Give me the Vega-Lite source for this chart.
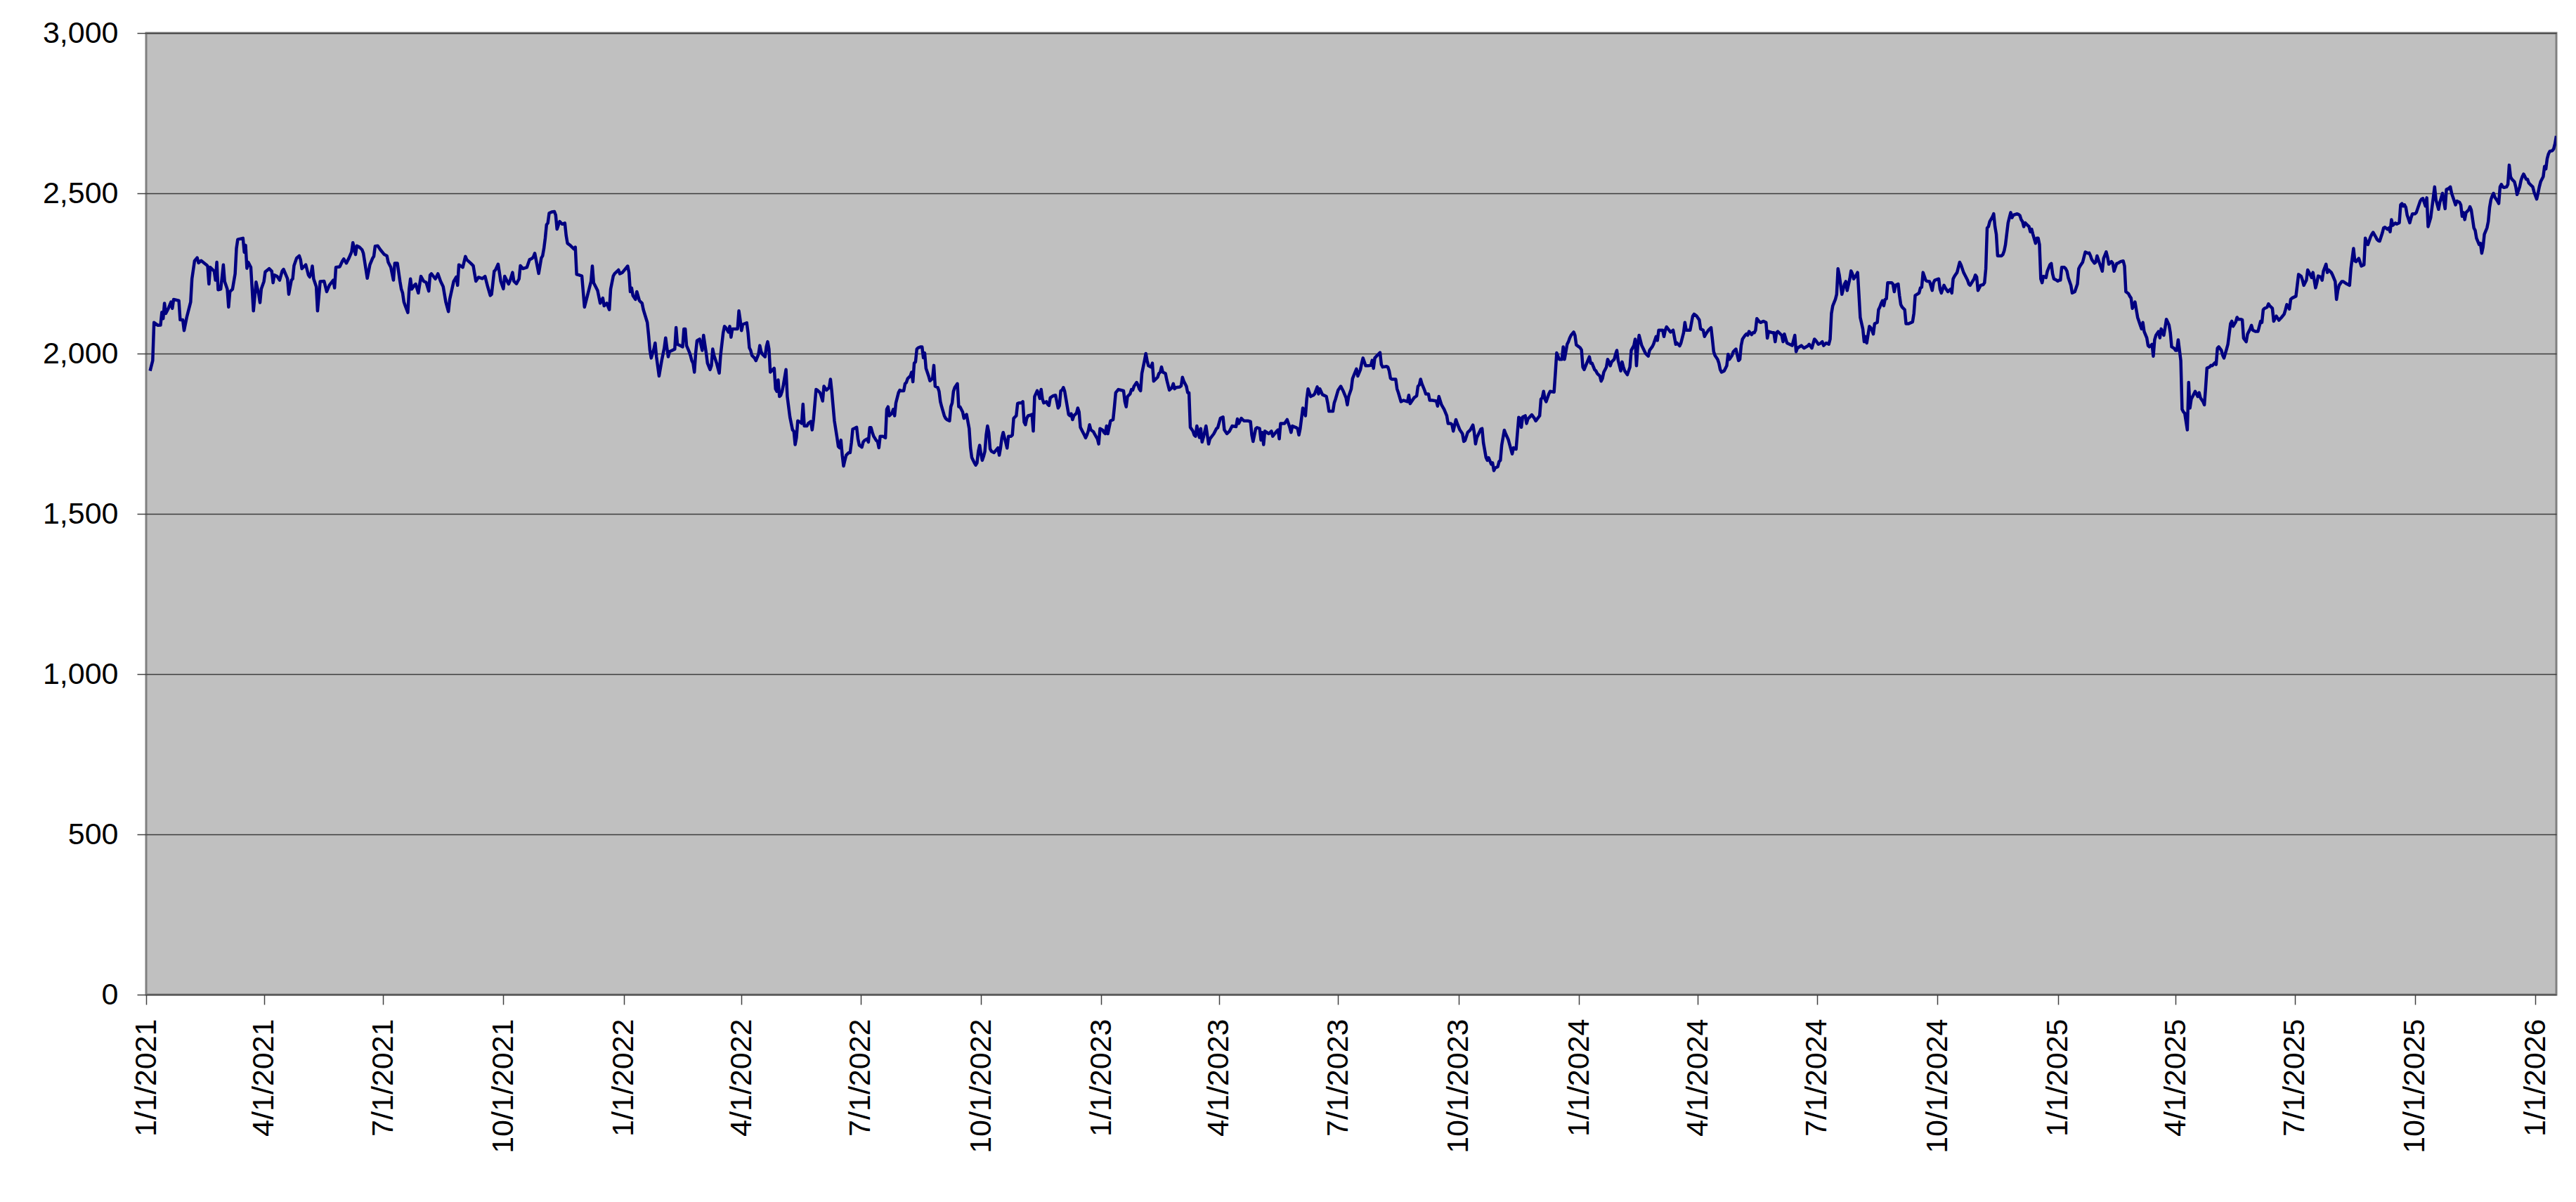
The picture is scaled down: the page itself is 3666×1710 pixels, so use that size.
{
"$schema":"https://vega.github.io/schema/vega-lite/v6.json",
"autosize":{"type":"none"},
"width":3430,"height":1368,
"padding":{"left":208,"top":47,"right":28,"bottom":295},
"background":"#ffffff",
"config":{"view":{"stroke":"#808080","strokeWidth":3,"fill":"#C0C0C0"},
"axis":{"labelFont":"Liberation Sans","labelFontSize":43,"labelColor":"#000000","labelLimit":0,"tickColor":"#404040","tickWidth":1.5,"domain":false}},
"data":{"format":{"parse":{"d":"date:'%Y-%j'"}},"values":[
{"d":"2021-004","v":1946},{"d":"2021-006","v":1978},{"d":"2021-007","v":2097},{"d":"2021-010","v":2088},{"d":"2021-012","v":2089},{"d":"2021-013","v":2129},{"d":"2021-014","v":2109},{"d":"2021-015","v":2157},{"d":"2021-016","v":2125},{"d":"2021-018","v":2141},{"d":"2021-020","v":2161},{"d":"2021-021","v":2141},{"d":"2021-022","v":2169},{"d":"2021-026","v":2165},{"d":"2021-027","v":2105},{"d":"2021-029","v":2105},{"d":"2021-030","v":2072},{"d":"2021-032","v":2113},{"d":"2021-035","v":2161},{"d":"2021-036","v":2233},{"d":"2021-038","v":2289},{"d":"2021-040","v":2299},{"d":"2021-041","v":2283},{"d":"2021-043","v":2290},{"d":"2021-047","v":2277},{"d":"2021-048","v":2273},{"d":"2021-049","v":2217},{"d":"2021-050","v":2269},{"d":"2021-053","v":2257},{"d":"2021-054","v":2229},{"d":"2021-055","v":2285},{"d":"2021-056","v":2199},{"d":"2021-058","v":2201},{"d":"2021-060","v":2277},{"d":"2021-061","v":2225},{"d":"2021-063","v":2201},{"d":"2021-064","v":2145},{"d":"2021-065","v":2193},{"d":"2021-067","v":2201},{"d":"2021-069","v":2249},{"d":"2021-070","v":2328},{"d":"2021-071","v":2356},{"d":"2021-075","v":2360},{"d":"2021-076","v":2316},{"d":"2021-077","v":2338},{"d":"2021-078","v":2266},{"d":"2021-079","v":2285},{"d":"2021-081","v":2269},{"d":"2021-082","v":2201},{"d":"2021-083","v":2133},{"d":"2021-085","v":2223},{"d":"2021-087","v":2185},{"d":"2021-088","v":2159},{"d":"2021-089","v":2202},{"d":"2021-091","v":2225},{"d":"2021-092","v":2255},{"d":"2021-095","v":2265},{"d":"2021-097","v":2257},{"d":"2021-098","v":2221},{"d":"2021-099","v":2245},{"d":"2021-101","v":2241},{"d":"2021-103","v":2229},{"d":"2021-105","v":2258},{"d":"2021-106","v":2263},{"d":"2021-109","v":2234},{"d":"2021-110","v":2185},{"d":"2021-112","v":2229},{"d":"2021-113","v":2233},{"d":"2021-114","v":2274},{"d":"2021-116","v":2298},{"d":"2021-118","v":2305},{"d":"2021-119","v":2293},{"d":"2021-120","v":2265},{"d":"2021-122","v":2273},{"d":"2021-123","v":2277},{"d":"2021-125","v":2245},{"d":"2021-126","v":2239},{"d":"2021-127","v":2249},{"d":"2021-128","v":2273},{"d":"2021-129","v":2233},{"d":"2021-131","v":2209},{"d":"2021-132","v":2133},{"d":"2021-134","v":2225},{"d":"2021-137","v":2226},{"d":"2021-139","v":2193},{"d":"2021-141","v":2213},{"d":"2021-144","v":2229},{"d":"2021-145","v":2205},{"d":"2021-146","v":2269},{"d":"2021-149","v":2271},{"d":"2021-151","v":2289},{"d":"2021-152","v":2295},{"d":"2021-154","v":2282},{"d":"2021-156","v":2298},{"d":"2021-158","v":2317},{"d":"2021-159","v":2346},{"d":"2021-161","v":2309},{"d":"2021-162","v":2336},{"d":"2021-164","v":2332},{"d":"2021-166","v":2324},{"d":"2021-167","v":2313},{"d":"2021-170","v":2235},{"d":"2021-172","v":2277},{"d":"2021-174","v":2297},{"d":"2021-175","v":2303},{"d":"2021-176","v":2335},{"d":"2021-178","v":2336},{"d":"2021-180","v":2324},{"d":"2021-183","v":2309},{"d":"2021-185","v":2305},{"d":"2021-186","v":2285},{"d":"2021-188","v":2269},{"d":"2021-190","v":2229},{"d":"2021-191","v":2282},{"d":"2021-193","v":2282},{"d":"2021-195","v":2225},{"d":"2021-196","v":2201},{"d":"2021-197","v":2189},{"d":"2021-198","v":2161},{"d":"2021-199","v":2149},{"d":"2021-201","v":2128},{"d":"2021-202","v":2201},{"d":"2021-203","v":2233},{"d":"2021-204","v":2201},{"d":"2021-206","v":2213},{"d":"2021-207","v":2217},{"d":"2021-209","v":2189},{"d":"2021-211","v":2241},{"d":"2021-213","v":2226},{"d":"2021-215","v":2222},{"d":"2021-217","v":2195},{"d":"2021-218","v":2245},{"d":"2021-219","v":2249},{"d":"2021-222","v":2233},{"d":"2021-224","v":2249},{"d":"2021-226","v":2226},{"d":"2021-228","v":2209},{"d":"2021-230","v":2161},{"d":"2021-232","v":2131},{"d":"2021-233","v":2169},{"d":"2021-236","v":2225},{"d":"2021-238","v":2239},{"d":"2021-239","v":2213},{"d":"2021-240","v":2277},{"d":"2021-243","v":2269},{"d":"2021-245","v":2303},{"d":"2021-246","v":2293},{"d":"2021-249","v":2282},{"d":"2021-251","v":2274},{"d":"2021-252","v":2249},{"d":"2021-253","v":2226},{"d":"2021-255","v":2238},{"d":"2021-258","v":2234},{"d":"2021-260","v":2241},{"d":"2021-262","v":2209},{"d":"2021-264","v":2181},{"d":"2021-265","v":2185},{"d":"2021-267","v":2257},{"d":"2021-268","v":2261},{"d":"2021-270","v":2279},{"d":"2021-272","v":2226},{"d":"2021-274","v":2202},{"d":"2021-275","v":2241},{"d":"2021-278","v":2217},{"d":"2021-279","v":2226},{"d":"2021-281","v":2253},{"d":"2021-282","v":2226},{"d":"2021-284","v":2218},{"d":"2021-286","v":2233},{"d":"2021-287","v":2274},{"d":"2021-289","v":2265},{"d":"2021-292","v":2269},{"d":"2021-294","v":2293},{"d":"2021-296","v":2297},{"d":"2021-297","v":2302},{"d":"2021-298","v":2313},{"d":"2021-301","v":2250},{"d":"2021-303","v":2298},{"d":"2021-304","v":2305},{"d":"2021-305","v":2328},{"d":"2021-306","v":2360},{"d":"2021-307","v":2402},{"d":"2021-308","v":2407},{"d":"2021-309","v":2438},{"d":"2021-311","v":2442},{"d":"2021-313","v":2443},{"d":"2021-314","v":2432},{"d":"2021-315","v":2388},{"d":"2021-317","v":2412},{"d":"2021-319","v":2404},{"d":"2021-321","v":2407},{"d":"2021-322","v":2368},{"d":"2021-323","v":2344},{"d":"2021-325","v":2338},{"d":"2021-328","v":2326},{"d":"2021-329","v":2332},{"d":"2021-330","v":2247},{"d":"2021-332","v":2245},{"d":"2021-334","v":2242},{"d":"2021-336","v":2145},{"d":"2021-337","v":2161},{"d":"2021-341","v":2225},{"d":"2021-342","v":2273},{"d":"2021-343","v":2221},{"d":"2021-346","v":2197},{"d":"2021-348","v":2157},{"d":"2021-350","v":2173},{"d":"2021-351","v":2149},{"d":"2021-353","v":2157},{"d":"2021-355","v":2137},{"d":"2021-356","v":2201},{"d":"2021-358","v":2242},{"d":"2021-359","v":2249},{"d":"2021-362","v":2261},{"d":"2021-363","v":2249},{"d":"2021-365","v":2253},
{"d":"2022-004","v":2273},{"d":"2022-005","v":2253},{"d":"2022-006","v":2193},{"d":"2022-007","v":2205},{"d":"2022-008","v":2181},{"d":"2022-009","v":2175},{"d":"2022-010","v":2169},{"d":"2022-011","v":2193},{"d":"2022-013","v":2165},{"d":"2022-014","v":2161},{"d":"2022-015","v":2157},{"d":"2022-016","v":2137},{"d":"2022-019","v":2097},{"d":"2022-020","v":2057},{"d":"2022-021","v":2010},{"d":"2022-022","v":1986},{"d":"2022-024","v":2014},{"d":"2022-025","v":2033},{"d":"2022-026","v":1990},{"d":"2022-028","v":1930},{"d":"2022-030","v":1978},{"d":"2022-032","v":2018},{"d":"2022-033","v":2049},{"d":"2022-034","v":2018},{"d":"2022-035","v":1990},{"d":"2022-036","v":2006},{"d":"2022-038","v":2010},{"d":"2022-040","v":2014},{"d":"2022-041","v":2081},{"d":"2022-042","v":2029},{"d":"2022-044","v":2025},{"d":"2022-046","v":2021},{"d":"2022-047","v":2077},{"d":"2022-048","v":2077},{"d":"2022-049","v":2025},{"d":"2022-051","v":2006},{"d":"2022-052","v":1994},{"d":"2022-053","v":1978},{"d":"2022-054","v":1970},{"d":"2022-055","v":1942},{"d":"2022-056","v":2002},{"d":"2022-057","v":2040},{"d":"2022-059","v":2045},{"d":"2022-061","v":2010},{"d":"2022-062","v":2057},{"d":"2022-063","v":2029},{"d":"2022-064","v":2002},{"d":"2022-065","v":1970},{"d":"2022-067","v":1950},{"d":"2022-068","v":1962},{"d":"2022-069","v":2014},{"d":"2022-070","v":1994},{"d":"2022-072","v":1970},{"d":"2022-073","v":1954},{"d":"2022-074","v":1939},{"d":"2022-075","v":1994},{"d":"2022-077","v":2065},{"d":"2022-078","v":2085},{"d":"2022-079","v":2081},{"d":"2022-081","v":2067},{"d":"2022-082","v":2085},{"d":"2022-083","v":2051},{"d":"2022-084","v":2077},{"d":"2022-088","v":2077},{"d":"2022-089","v":2133},{"d":"2022-090","v":2105},{"d":"2022-091","v":2072},{"d":"2022-092","v":2091},{"d":"2022-095","v":2096},{"d":"2022-096","v":2065},{"d":"2022-097","v":2018},{"d":"2022-098","v":2010},{"d":"2022-099","v":1994},{"d":"2022-101","v":1986},{"d":"2022-102","v":1978},{"d":"2022-104","v":1998},{"d":"2022-105","v":2025},{"d":"2022-106","v":2006},{"d":"2022-107","v":1998},{"d":"2022-109","v":1990},{"d":"2022-110","v":2021},{"d":"2022-111","v":2037},{"d":"2022-112","v":2014},{"d":"2022-113","v":1942},{"d":"2022-114","v":1946},{"d":"2022-116","v":1954},{"d":"2022-117","v":1890},{"d":"2022-118","v":1882},{"d":"2022-119","v":1918},{"d":"2022-120","v":1866},{"d":"2022-121","v":1870},{"d":"2022-122","v":1882},{"d":"2022-123","v":1902},{"d":"2022-125","v":1950},{"d":"2022-126","v":1866},{"d":"2022-127","v":1834},{"d":"2022-128","v":1802},{"d":"2022-130","v":1762},{"d":"2022-131","v":1758},{"d":"2022-132","v":1716},{"d":"2022-133","v":1738},{"d":"2022-134","v":1790},{"d":"2022-136","v":1786},{"d":"2022-137","v":1782},{"d":"2022-138","v":1842},{"d":"2022-139","v":1774},{"d":"2022-141","v":1774},{"d":"2022-142","v":1782},{"d":"2022-144","v":1788},{"d":"2022-145","v":1762},{"d":"2022-146","v":1794},{"d":"2022-148","v":1888},{"d":"2022-149","v":1886},{"d":"2022-151","v":1878},{"d":"2022-152","v":1866},{"d":"2022-153","v":1852},{"d":"2022-154","v":1898},{"d":"2022-156","v":1886},{"d":"2022-157","v":1890},{"d":"2022-158","v":1894},{"d":"2022-159","v":1920},{"d":"2022-160","v":1882},{"d":"2022-162","v":1790},{"d":"2022-164","v":1738},{"d":"2022-165","v":1710},{"d":"2022-166","v":1706},{"d":"2022-167","v":1730},{"d":"2022-168","v":1683},{"d":"2022-169","v":1649},{"d":"2022-170","v":1667},{"d":"2022-171","v":1683},{"d":"2022-173","v":1691},{"d":"2022-174","v":1691},{"d":"2022-175","v":1722},{"d":"2022-176","v":1764},{"d":"2022-177","v":1766},{"d":"2022-179","v":1770},{"d":"2022-180","v":1734},{"d":"2022-181","v":1714},{"d":"2022-183","v":1708},{"d":"2022-184","v":1724},{"d":"2022-185","v":1729},{"d":"2022-187","v":1734},{"d":"2022-188","v":1724},{"d":"2022-189","v":1769},{"d":"2022-190","v":1769},{"d":"2022-191","v":1754},{"d":"2022-192","v":1742},{"d":"2022-194","v":1729},{"d":"2022-195","v":1726},{"d":"2022-196","v":1706},{"d":"2022-197","v":1742},{"d":"2022-199","v":1742},{"d":"2022-201","v":1737},{"d":"2022-202","v":1826},{"d":"2022-203","v":1834},{"d":"2022-204","v":1806},{"d":"2022-205","v":1810},{"d":"2022-206","v":1814},{"d":"2022-207","v":1826},{"d":"2022-208","v":1806},{"d":"2022-209","v":1846},{"d":"2022-211","v":1878},{"d":"2022-212","v":1886},{"d":"2022-213","v":1884},{"d":"2022-215","v":1884},{"d":"2022-216","v":1906},{"d":"2022-217","v":1910},{"d":"2022-218","v":1922},{"d":"2022-220","v":1930},{"d":"2022-221","v":1942},{"d":"2022-222","v":1912},{"d":"2022-223","v":1970},{"d":"2022-224","v":1974},{"d":"2022-225","v":2014},{"d":"2022-226","v":2018},{"d":"2022-228","v":2021},{"d":"2022-229","v":2021},{"d":"2022-230","v":1987},{"d":"2022-231","v":2002},{"d":"2022-232","v":1954},{"d":"2022-234","v":1930},{"d":"2022-235","v":1915},{"d":"2022-237","v":1922},{"d":"2022-238","v":1963},{"d":"2022-239","v":1898},{"d":"2022-241","v":1894},{"d":"2022-242","v":1882},{"d":"2022-243","v":1850},{"d":"2022-244","v":1834},{"d":"2022-246","v":1806},{"d":"2022-247","v":1798},{"d":"2022-248","v":1794},{"d":"2022-250","v":1790},{"d":"2022-251","v":1834},{"d":"2022-252","v":1846},{"d":"2022-253","v":1882},{"d":"2022-254","v":1894},{"d":"2022-256","v":1906},{"d":"2022-257","v":1834},{"d":"2022-258","v":1834},{"d":"2022-260","v":1818},{"d":"2022-261","v":1798},{"d":"2022-262","v":1806},{"d":"2022-263","v":1810},{"d":"2022-265","v":1766},{"d":"2022-266","v":1706},{"d":"2022-267","v":1676},{"d":"2022-268","v":1667},{"d":"2022-269","v":1659},{"d":"2022-270","v":1652},{"d":"2022-271","v":1659},{"d":"2022-272","v":1695},{"d":"2022-273","v":1714},{"d":"2022-274","v":1687},{"d":"2022-275","v":1667},{"d":"2022-276","v":1679},{"d":"2022-277","v":1695},{"d":"2022-278","v":1746},{"d":"2022-279","v":1774},{"d":"2022-280","v":1754},{"d":"2022-281","v":1703},{"d":"2022-282","v":1695},{"d":"2022-284","v":1691},{"d":"2022-287","v":1706},{"d":"2022-288","v":1683},{"d":"2022-289","v":1706},{"d":"2022-290","v":1738},{"d":"2022-291","v":1754},{"d":"2022-292","v":1738},{"d":"2022-293","v":1722},{"d":"2022-294","v":1705},{"d":"2022-295","v":1742},{"d":"2022-297","v":1742},{"d":"2022-298","v":1746},{"d":"2022-299","v":1798},{"d":"2022-301","v":1806},{"d":"2022-302","v":1844},{"d":"2022-303","v":1846},{"d":"2022-305","v":1846},{"d":"2022-306","v":1850},{"d":"2022-307","v":1786},{"d":"2022-308","v":1778},{"d":"2022-309","v":1798},{"d":"2022-310","v":1806},{"d":"2022-312","v":1808},{"d":"2022-313","v":1810},{"d":"2022-314","v":1758},{"d":"2022-315","v":1866},{"d":"2022-317","v":1884},{"d":"2022-318","v":1874},{"d":"2022-319","v":1860},{"d":"2022-320","v":1888},{"d":"2022-321","v":1858},{"d":"2022-322","v":1846},{"d":"2022-324","v":1850},{"d":"2022-325","v":1842},{"d":"2022-326","v":1838},{"d":"2022-327","v":1862},{"d":"2022-329","v":1868},{"d":"2022-331","v":1870},{"d":"2022-332","v":1850},{"d":"2022-333","v":1830},{"d":"2022-334","v":1838},{"d":"2022-335","v":1884},{"d":"2022-336","v":1886},{"d":"2022-337","v":1894},{"d":"2022-338","v":1882},{"d":"2022-339","v":1858},{"d":"2022-340","v":1834},{"d":"2022-341","v":1810},{"d":"2022-342","v":1806},{"d":"2022-343","v":1812},{"d":"2022-344","v":1794},{"d":"2022-345","v":1806},{"d":"2022-347","v":1814},{"d":"2022-348","v":1830},{"d":"2022-349","v":1818},{"d":"2022-350","v":1770},{"d":"2022-352","v":1754},{"d":"2022-353","v":1746},{"d":"2022-354","v":1737},{"d":"2022-355","v":1746},{"d":"2022-356","v":1758},{"d":"2022-357","v":1778},{"d":"2022-358","v":1762},{"d":"2022-360","v":1756},{"d":"2022-361","v":1748},{"d":"2022-363","v":1734},{"d":"2022-364","v":1718},{"d":"2022-365","v":1766},
{"d":"2023-002","v":1761},{"d":"2023-003","v":1754},{"d":"2023-004","v":1750},{"d":"2023-005","v":1774},{"d":"2023-006","v":1750},{"d":"2023-008","v":1790},{"d":"2023-010","v":1794},{"d":"2023-011","v":1834},{"d":"2023-012","v":1878},{"d":"2023-014","v":1888},{"d":"2023-016","v":1886},{"d":"2023-018","v":1884},{"d":"2023-019","v":1850},{"d":"2023-020","v":1834},{"d":"2023-021","v":1866},{"d":"2023-023","v":1874},{"d":"2023-024","v":1888},{"d":"2023-025","v":1886},{"d":"2023-026","v":1898},{"d":"2023-028","v":1910},{"d":"2023-029","v":1902},{"d":"2023-030","v":1890},{"d":"2023-031","v":1884},{"d":"2023-032","v":1938},{"d":"2023-034","v":1978},{"d":"2023-035","v":2000},{"d":"2023-036","v":1978},{"d":"2023-037","v":1962},{"d":"2023-039","v":1958},{"d":"2023-040","v":1970},{"d":"2023-041","v":1914},{"d":"2023-042","v":1918},{"d":"2023-044","v":1926},{"d":"2023-045","v":1938},{"d":"2023-046","v":1942},{"d":"2023-047","v":1958},{"d":"2023-048","v":1942},{"d":"2023-050","v":1938},{"d":"2023-051","v":1918},{"d":"2023-052","v":1902},{"d":"2023-053","v":1886},{"d":"2023-055","v":1894},{"d":"2023-056","v":1906},{"d":"2023-057","v":1890},{"d":"2023-058","v":1894},{"d":"2023-061","v":1896},{"d":"2023-062","v":1899},{"d":"2023-063","v":1926},{"d":"2023-064","v":1914},{"d":"2023-066","v":1898},{"d":"2023-067","v":1878},{"d":"2023-068","v":1878},{"d":"2023-069","v":1770},{"d":"2023-071","v":1758},{"d":"2023-072","v":1746},{"d":"2023-073","v":1742},{"d":"2023-074","v":1774},{"d":"2023-076","v":1738},{"d":"2023-077","v":1766},{"d":"2023-078","v":1724},{"d":"2023-079","v":1738},{"d":"2023-081","v":1774},{"d":"2023-082","v":1746},{"d":"2023-083","v":1718},{"d":"2023-084","v":1734},{"d":"2023-087","v":1750},{"d":"2023-089","v":1766},{"d":"2023-090","v":1769},{"d":"2023-092","v":1798},{"d":"2023-094","v":1802},{"d":"2023-095","v":1762},{"d":"2023-097","v":1750},{"d":"2023-099","v":1758},{"d":"2023-101","v":1774},{"d":"2023-104","v":1772},{"d":"2023-105","v":1796},{"d":"2023-106","v":1782},{"d":"2023-108","v":1798},{"d":"2023-110","v":1790},{"d":"2023-113","v":1790},{"d":"2023-115","v":1788},{"d":"2023-116","v":1746},{"d":"2023-117","v":1726},{"d":"2023-119","v":1766},{"d":"2023-120","v":1769},{"d":"2023-122","v":1766},{"d":"2023-123","v":1730},{"d":"2023-124","v":1754},{"d":"2023-125","v":1716},{"d":"2023-126","v":1758},{"d":"2023-129","v":1750},{"d":"2023-131","v":1758},{"d":"2023-132","v":1742},{"d":"2023-135","v":1758},{"d":"2023-136","v":1762},{"d":"2023-137","v":1734},{"d":"2023-138","v":1782},{"d":"2023-141","v":1782},{"d":"2023-143","v":1794},{"d":"2023-145","v":1770},{"d":"2023-146","v":1754},{"d":"2023-147","v":1774},{"d":"2023-150","v":1769},{"d":"2023-151","v":1766},{"d":"2023-152","v":1746},{"d":"2023-153","v":1766},{"d":"2023-155","v":1830},{"d":"2023-156","v":1822},{"d":"2023-157","v":1806},{"d":"2023-158","v":1858},{"d":"2023-159","v":1890},{"d":"2023-161","v":1866},{"d":"2023-163","v":1870},{"d":"2023-164","v":1874},{"d":"2023-166","v":1896},{"d":"2023-167","v":1874},{"d":"2023-168","v":1890},{"d":"2023-170","v":1872},{"d":"2023-173","v":1866},{"d":"2023-174","v":1846},{"d":"2023-175","v":1820},{"d":"2023-178","v":1820},{"d":"2023-179","v":1846},{"d":"2023-180","v":1858},{"d":"2023-182","v":1886},{"d":"2023-184","v":1898},{"d":"2023-186","v":1882},{"d":"2023-188","v":1862},{"d":"2023-189","v":1840},{"d":"2023-190","v":1866},{"d":"2023-192","v":1890},{"d":"2023-193","v":1922},{"d":"2023-195","v":1942},{"d":"2023-196","v":1952},{"d":"2023-197","v":1930},{"d":"2023-199","v":1950},{"d":"2023-200","v":1970},{"d":"2023-201","v":1986},{"d":"2023-203","v":1962},{"d":"2023-205","v":1962},{"d":"2023-207","v":1963},{"d":"2023-208","v":1979},{"d":"2023-209","v":1954},{"d":"2023-210","v":1986},{"d":"2023-212","v":1995},{"d":"2023-214","v":2003},{"d":"2023-215","v":1966},{"d":"2023-216","v":1958},{"d":"2023-219","v":1960},{"d":"2023-220","v":1958},{"d":"2023-221","v":1946},{"d":"2023-222","v":1923},{"d":"2023-223","v":1920},{"d":"2023-226","v":1920},{"d":"2023-227","v":1890},{"d":"2023-228","v":1878},{"d":"2023-230","v":1850},{"d":"2023-232","v":1854},{"d":"2023-235","v":1850},{"d":"2023-236","v":1870},{"d":"2023-237","v":1844},{"d":"2023-240","v":1862},{"d":"2023-242","v":1868},{"d":"2023-243","v":1898},{"d":"2023-244","v":1902},{"d":"2023-245","v":1920},{"d":"2023-246","v":1906},{"d":"2023-248","v":1886},{"d":"2023-249","v":1874},{"d":"2023-251","v":1874},{"d":"2023-252","v":1854},{"d":"2023-254","v":1854},{"d":"2023-257","v":1852},{"d":"2023-258","v":1836},{"d":"2023-259","v":1866},{"d":"2023-261","v":1840},{"d":"2023-263","v":1826},{"d":"2023-265","v":1806},{"d":"2023-266","v":1782},{"d":"2023-268","v":1782},{"d":"2023-269","v":1778},{"d":"2023-270","v":1758},{"d":"2023-272","v":1794},{"d":"2023-273","v":1782},{"d":"2023-275","v":1762},{"d":"2023-277","v":1750},{"d":"2023-278","v":1726},{"d":"2023-279","v":1729},{"d":"2023-281","v":1754},{"d":"2023-283","v":1762},{"d":"2023-285","v":1777},{"d":"2023-286","v":1754},{"d":"2023-287","v":1718},{"d":"2023-288","v":1738},{"d":"2023-291","v":1764},{"d":"2023-292","v":1766},{"d":"2023-293","v":1722},{"d":"2023-295","v":1676},{"d":"2023-296","v":1667},{"d":"2023-297","v":1675},{"d":"2023-299","v":1655},{"d":"2023-300","v":1659},{"d":"2023-301","v":1635},{"d":"2023-302","v":1643},{"d":"2023-304","v":1647},{"d":"2023-305","v":1663},{"d":"2023-306","v":1667},{"d":"2023-307","v":1714},{"d":"2023-309","v":1761},{"d":"2023-310","v":1750},{"d":"2023-312","v":1732},{"d":"2023-314","v":1702},{"d":"2023-315","v":1687},{"d":"2023-316","v":1706},{"d":"2023-318","v":1702},{"d":"2023-320","v":1801},{"d":"2023-321","v":1798},{"d":"2023-322","v":1770},{"d":"2023-323","v":1802},{"d":"2023-325","v":1806},{"d":"2023-326","v":1782},{"d":"2023-327","v":1796},{"d":"2023-330","v":1809},{"d":"2023-332","v":1798},{"d":"2023-333","v":1790},{"d":"2023-336","v":1806},{"d":"2023-337","v":1858},{"d":"2023-338","v":1862},{"d":"2023-339","v":1882},{"d":"2023-340","v":1858},{"d":"2023-341","v":1850},{"d":"2023-343","v":1874},{"d":"2023-344","v":1882},{"d":"2023-347","v":1880},{"d":"2023-348","v":1938},{"d":"2023-349","v":2002},{"d":"2023-351","v":1982},{"d":"2023-353","v":1982},{"d":"2023-354","v":2021},{"d":"2023-355","v":1982},{"d":"2023-357","v":2029},{"d":"2023-358","v":2037},{"d":"2023-359","v":2049},{"d":"2023-360","v":2057},{"d":"2023-362","v":2067},{"d":"2023-363","v":2057},{"d":"2023-364","v":2027},
{"d":"2024-001","v":2021},{"d":"2024-002","v":2018},{"d":"2024-003","v":2011},{"d":"2024-004","v":1958},{"d":"2024-005","v":1950},{"d":"2024-007","v":1970},{"d":"2024-009","v":1990},{"d":"2024-010","v":1970},{"d":"2024-011","v":1970},{"d":"2024-013","v":1950},{"d":"2024-014","v":1946},{"d":"2024-015","v":1938},{"d":"2024-017","v":1930},{"d":"2024-018","v":1914},{"d":"2024-019","v":1922},{"d":"2024-020","v":1942},{"d":"2024-022","v":1958},{"d":"2024-023","v":1982},{"d":"2024-024","v":1974},{"d":"2024-025","v":1962},{"d":"2024-026","v":1974},{"d":"2024-028","v":1982},{"d":"2024-029","v":1998},{"d":"2024-030","v":2010},{"d":"2024-031","v":1978},{"d":"2024-033","v":1946},{"d":"2024-034","v":1974},{"d":"2024-035","v":1958},{"d":"2024-036","v":1946},{"d":"2024-038","v":1934},{"d":"2024-039","v":1946},{"d":"2024-040","v":1958},{"d":"2024-041","v":2010},{"d":"2024-043","v":2025},{"d":"2024-044","v":2045},{"d":"2024-045","v":1962},{"d":"2024-046","v":2025},{"d":"2024-047","v":2057},{"d":"2024-049","v":2025},{"d":"2024-050","v":2017},{"d":"2024-052","v":2000},{"d":"2024-054","v":1992},{"d":"2024-055","v":2010},{"d":"2024-057","v":2021},{"d":"2024-058","v":2029},{"d":"2024-060","v":2053},{"d":"2024-061","v":2041},{"d":"2024-062","v":2073},{"d":"2024-065","v":2073},{"d":"2024-066","v":2053},{"d":"2024-067","v":2073},{"d":"2024-068","v":2083},{"d":"2024-071","v":2067},{"d":"2024-073","v":2073},{"d":"2024-075","v":2029},{"d":"2024-076","v":2033},{"d":"2024-078","v":2024},{"d":"2024-079","v":2033},{"d":"2024-081","v":2065},{"d":"2024-082","v":2097},{"d":"2024-083","v":2073},{"d":"2024-086","v":2073},{"d":"2024-088","v":2117},{"d":"2024-089","v":2123},{"d":"2024-091","v":2117},{"d":"2024-093","v":2105},{"d":"2024-094","v":2077},{"d":"2024-096","v":2073},{"d":"2024-097","v":2053},{"d":"2024-098","v":2061},{"d":"2024-100","v":2073},{"d":"2024-102","v":2081},{"d":"2024-103","v":2045},{"d":"2024-104","v":2006},{"d":"2024-105","v":1994},{"d":"2024-107","v":1982},{"d":"2024-108","v":1970},{"d":"2024-109","v":1950},{"d":"2024-110","v":1942},{"d":"2024-112","v":1946},{"d":"2024-113","v":1954},{"d":"2024-114","v":1962},{"d":"2024-115","v":1998},{"d":"2024-116","v":1982},{"d":"2024-118","v":1994},{"d":"2024-119","v":2006},{"d":"2024-120","v":2010},{"d":"2024-121","v":2014},{"d":"2024-123","v":1978},{"d":"2024-124","v":1982},{"d":"2024-125","v":2025},{"d":"2024-126","v":2045},{"d":"2024-128","v":2057},{"d":"2024-129","v":2061},{"d":"2024-130","v":2057},{"d":"2024-131","v":2069},{"d":"2024-133","v":2059},{"d":"2024-134","v":2065},{"d":"2024-135","v":2065},{"d":"2024-136","v":2073},{"d":"2024-137","v":2109},{"d":"2024-139","v":2099},{"d":"2024-140","v":2097},{"d":"2024-142","v":2101},{"d":"2024-144","v":2097},{"d":"2024-145","v":2048},{"d":"2024-146","v":2069},{"d":"2024-149","v":2065},{"d":"2024-150","v":2065},{"d":"2024-151","v":2037},{"d":"2024-152","v":2065},{"d":"2024-153","v":2069},{"d":"2024-156","v":2057},{"d":"2024-157","v":2037},{"d":"2024-158","v":2061},{"d":"2024-160","v":2033},{"d":"2024-162","v":2029},{"d":"2024-164","v":2025},{"d":"2024-166","v":2057},{"d":"2024-167","v":2006},{"d":"2024-168","v":2017},{"d":"2024-171","v":2025},{"d":"2024-173","v":2017},{"d":"2024-176","v":2024},{"d":"2024-177","v":2029},{"d":"2024-179","v":2017},{"d":"2024-181","v":2045},{"d":"2024-182","v":2041},{"d":"2024-184","v":2029},{"d":"2024-186","v":2033},{"d":"2024-187","v":2037},{"d":"2024-188","v":2025},{"d":"2024-190","v":2033},{"d":"2024-192","v":2029},{"d":"2024-193","v":2045},{"d":"2024-194","v":2125},{"d":"2024-195","v":2149},{"d":"2024-197","v":2169},{"d":"2024-198","v":2185},{"d":"2024-199","v":2265},{"d":"2024-200","v":2245},{"d":"2024-202","v":2185},{"d":"2024-203","v":2201},{"d":"2024-204","v":2217},{"d":"2024-205","v":2225},{"d":"2024-206","v":2197},{"d":"2024-208","v":2233},{"d":"2024-209","v":2258},{"d":"2024-210","v":2249},{"d":"2024-211","v":2233},{"d":"2024-213","v":2245},{"d":"2024-214","v":2253},{"d":"2024-215","v":2185},{"d":"2024-216","v":2113},{"d":"2024-218","v":2077},{"d":"2024-219","v":2037},{"d":"2024-220","v":2053},{"d":"2024-221","v":2033},{"d":"2024-223","v":2085},{"d":"2024-224","v":2081},{"d":"2024-225","v":2073},{"d":"2024-226","v":2061},{"d":"2024-227","v":2093},{"d":"2024-229","v":2097},{"d":"2024-230","v":2137},{"d":"2024-231","v":2145},{"d":"2024-232","v":2157},{"d":"2024-233","v":2165},{"d":"2024-234","v":2149},{"d":"2024-235","v":2169},{"d":"2024-236","v":2171},{"d":"2024-237","v":2221},{"d":"2024-240","v":2221},{"d":"2024-241","v":2217},{"d":"2024-242","v":2193},{"d":"2024-243","v":2213},{"d":"2024-245","v":2217},{"d":"2024-246","v":2181},{"d":"2024-247","v":2153},{"d":"2024-248","v":2145},{"d":"2024-250","v":2137},{"d":"2024-251","v":2093},{"d":"2024-253","v":2093},{"d":"2024-256","v":2099},{"d":"2024-257","v":2125},{"d":"2024-258","v":2181},{"d":"2024-261","v":2189},{"d":"2024-262","v":2205},{"d":"2024-263","v":2207},{"d":"2024-264","v":2253},{"d":"2024-266","v":2229},{"d":"2024-267","v":2226},{"d":"2024-269","v":2225},{"d":"2024-271","v":2197},{"d":"2024-272","v":2221},{"d":"2024-273","v":2229},{"d":"2024-276","v":2233},{"d":"2024-277","v":2201},{"d":"2024-278","v":2189},{"d":"2024-280","v":2213},{"d":"2024-281","v":2205},{"d":"2024-283","v":2193},{"d":"2024-285","v":2201},{"d":"2024-286","v":2189},{"d":"2024-287","v":2233},{"d":"2024-288","v":2241},{"d":"2024-290","v":2253},{"d":"2024-292","v":2285},{"d":"2024-293","v":2277},{"d":"2024-294","v":2265},{"d":"2024-295","v":2253},{"d":"2024-296","v":2245},{"d":"2024-298","v":2229},{"d":"2024-299","v":2217},{"d":"2024-300","v":2213},{"d":"2024-303","v":2233},{"d":"2024-304","v":2245},{"d":"2024-305","v":2239},{"d":"2024-306","v":2197},{"d":"2024-308","v":2213},{"d":"2024-310","v":2215},{"d":"2024-311","v":2221},{"d":"2024-312","v":2265},{"d":"2024-313","v":2392},{"d":"2024-314","v":2396},{"d":"2024-315","v":2412},{"d":"2024-317","v":2426},{"d":"2024-318","v":2436},{"d":"2024-319","v":2396},{"d":"2024-320","v":2372},{"d":"2024-321","v":2305},{"d":"2024-324","v":2305},{"d":"2024-325","v":2309},{"d":"2024-326","v":2320},{"d":"2024-327","v":2340},{"d":"2024-329","v":2408},{"d":"2024-330","v":2424},{"d":"2024-331","v":2440},{"d":"2024-332","v":2424},{"d":"2024-333","v":2432},{"d":"2024-336","v":2436},{"d":"2024-337","v":2434},{"d":"2024-338","v":2431},{"d":"2024-339","v":2418},{"d":"2024-340","v":2412},{"d":"2024-341","v":2396},{"d":"2024-342","v":2408},{"d":"2024-343","v":2404},{"d":"2024-345","v":2396},{"d":"2024-346","v":2380},{"d":"2024-347","v":2388},{"d":"2024-348","v":2372},{"d":"2024-350","v":2344},{"d":"2024-351","v":2360},{"d":"2024-352","v":2360},{"d":"2024-353","v":2340},{"d":"2024-354","v":2233},{"d":"2024-355","v":2221},{"d":"2024-356","v":2241},{"d":"2024-358","v":2237},{"d":"2024-359","v":2257},{"d":"2024-361","v":2277},{"d":"2024-362","v":2281},{"d":"2024-363","v":2249},{"d":"2024-364","v":2233},{"d":"2024-366","v":2229},
{"d":"2025-001","v":2226},{"d":"2025-002","v":2229},{"d":"2025-003","v":2229},{"d":"2025-004","v":2269},{"d":"2025-006","v":2269},{"d":"2025-007","v":2265},{"d":"2025-008","v":2257},{"d":"2025-009","v":2237},{"d":"2025-011","v":2213},{"d":"2025-012","v":2189},{"d":"2025-014","v":2193},{"d":"2025-016","v":2217},{"d":"2025-017","v":2265},{"d":"2025-018","v":2273},{"d":"2025-020","v":2285},{"d":"2025-021","v":2301},{"d":"2025-022","v":2317},{"d":"2025-024","v":2313},{"d":"2025-025","v":2314},{"d":"2025-026","v":2305},{"d":"2025-027","v":2293},{"d":"2025-029","v":2282},{"d":"2025-030","v":2285},{"d":"2025-031","v":2305},{"d":"2025-033","v":2281},{"d":"2025-034","v":2269},{"d":"2025-035","v":2257},{"d":"2025-036","v":2297},{"d":"2025-038","v":2317},{"d":"2025-039","v":2301},{"d":"2025-040","v":2279},{"d":"2025-042","v":2287},{"d":"2025-043","v":2282},{"d":"2025-044","v":2257},{"d":"2025-046","v":2281},{"d":"2025-047","v":2282},{"d":"2025-049","v":2287},{"d":"2025-051","v":2289},{"d":"2025-052","v":2273},{"d":"2025-053","v":2193},{"d":"2025-055","v":2187},{"d":"2025-056","v":2179},{"d":"2025-057","v":2173},{"d":"2025-058","v":2141},{"d":"2025-060","v":2161},{"d":"2025-061","v":2137},{"d":"2025-062","v":2113},{"d":"2025-064","v":2089},{"d":"2025-065","v":2077},{"d":"2025-066","v":2097},{"d":"2025-067","v":2069},{"d":"2025-069","v":2049},{"d":"2025-070","v":2025},{"d":"2025-071","v":2021},{"d":"2025-073","v":2029},{"d":"2025-074","v":1992},{"d":"2025-075","v":2043},{"d":"2025-076","v":2057},{"d":"2025-078","v":2069},{"d":"2025-079","v":2049},{"d":"2025-080","v":2077},{"d":"2025-082","v":2057},{"d":"2025-083","v":2081},{"d":"2025-084","v":2107},{"d":"2025-086","v":2089},{"d":"2025-087","v":2065},{"d":"2025-088","v":2021},{"d":"2025-090","v":2016},{"d":"2025-091","v":2010},{"d":"2025-092","v":2010},{"d":"2025-093","v":2043},{"d":"2025-095","v":1978},{"d":"2025-096","v":1826},{"d":"2025-097","v":1818},{"d":"2025-098","v":1814},{"d":"2025-100","v":1762},{"d":"2025-101","v":1910},{"d":"2025-102","v":1830},{"d":"2025-103","v":1858},{"d":"2025-105","v":1874},{"d":"2025-106","v":1882},{"d":"2025-107","v":1874},{"d":"2025-108","v":1866},{"d":"2025-109","v":1878},{"d":"2025-110","v":1862},{"d":"2025-112","v":1850},{"d":"2025-113","v":1840},{"d":"2025-114","v":1894},{"d":"2025-115","v":1955},{"d":"2025-117","v":1958},{"d":"2025-118","v":1963},{"d":"2025-119","v":1962},{"d":"2025-121","v":1971},{"d":"2025-122","v":1966},{"d":"2025-123","v":2017},{"d":"2025-124","v":2021},{"d":"2025-126","v":2010},{"d":"2025-127","v":1995},{"d":"2025-128","v":1986},{"d":"2025-130","v":2014},{"d":"2025-131","v":2029},{"d":"2025-132","v":2061},{"d":"2025-133","v":2093},{"d":"2025-134","v":2101},{"d":"2025-135","v":2085},{"d":"2025-137","v":2099},{"d":"2025-138","v":2113},{"d":"2025-139","v":2107},{"d":"2025-141","v":2107},{"d":"2025-142","v":2105},{"d":"2025-143","v":2048},{"d":"2025-145","v":2037},{"d":"2025-146","v":2061},{"d":"2025-148","v":2077},{"d":"2025-149","v":2088},{"d":"2025-150","v":2073},{"d":"2025-152","v":2069},{"d":"2025-154","v":2069},{"d":"2025-156","v":2101},{"d":"2025-157","v":2097},{"d":"2025-158","v":2137},{"d":"2025-159","v":2141},{"d":"2025-161","v":2145},{"d":"2025-162","v":2155},{"d":"2025-163","v":2149},{"d":"2025-165","v":2141},{"d":"2025-166","v":2101},{"d":"2025-167","v":2109},{"d":"2025-168","v":2117},{"d":"2025-170","v":2104},{"d":"2025-172","v":2113},{"d":"2025-174","v":2123},{"d":"2025-175","v":2137},{"d":"2025-176","v":2153},{"d":"2025-178","v":2139},{"d":"2025-179","v":2169},{"d":"2025-180","v":2173},{"d":"2025-183","v":2179},{"d":"2025-184","v":2213},{"d":"2025-185","v":2247},{"d":"2025-187","v":2241},{"d":"2025-188","v":2229},{"d":"2025-189","v":2213},{"d":"2025-191","v":2229},{"d":"2025-192","v":2261},{"d":"2025-193","v":2253},{"d":"2025-194","v":2245},{"d":"2025-195","v":2237},{"d":"2025-196","v":2253},{"d":"2025-198","v":2205},{"d":"2025-199","v":2221},{"d":"2025-200","v":2242},{"d":"2025-202","v":2239},{"d":"2025-203","v":2229},{"d":"2025-204","v":2257},{"d":"2025-206","v":2279},{"d":"2025-207","v":2253},{"d":"2025-208","v":2261},{"d":"2025-210","v":2253},{"d":"2025-211","v":2245},{"d":"2025-213","v":2225},{"d":"2025-214","v":2169},{"d":"2025-215","v":2197},{"d":"2025-216","v":2213},{"d":"2025-218","v":2225},{"d":"2025-219","v":2225},{"d":"2025-222","v":2217},{"d":"2025-224","v":2213},{"d":"2025-225","v":2265},{"d":"2025-227","v":2328},{"d":"2025-228","v":2289},{"d":"2025-229","v":2287},{"d":"2025-231","v":2297},{"d":"2025-232","v":2285},{"d":"2025-233","v":2273},{"d":"2025-235","v":2277},{"d":"2025-236","v":2360},{"d":"2025-237","v":2348},{"d":"2025-238","v":2340},{"d":"2025-240","v":2364},{"d":"2025-241","v":2372},{"d":"2025-242","v":2378},{"d":"2025-244","v":2364},{"d":"2025-245","v":2356},{"d":"2025-246","v":2352},{"d":"2025-247","v":2351},{"d":"2025-249","v":2376},{"d":"2025-250","v":2392},{"d":"2025-251","v":2394},{"d":"2025-253","v":2388},{"d":"2025-254","v":2392},{"d":"2025-255","v":2380},{"d":"2025-256","v":2418},{"d":"2025-257","v":2400},{"d":"2025-259","v":2407},{"d":"2025-260","v":2404},{"d":"2025-262","v":2408},{"d":"2025-263","v":2464},{"d":"2025-264","v":2468},{"d":"2025-265","v":2460},{"d":"2025-266","v":2464},{"d":"2025-267","v":2456},{"d":"2025-268","v":2432},{"d":"2025-270","v":2408},{"d":"2025-271","v":2424},{"d":"2025-272","v":2436},{"d":"2025-274","v":2436},{"d":"2025-275","v":2440},{"d":"2025-276","v":2452},{"d":"2025-278","v":2476},{"d":"2025-279","v":2482},{"d":"2025-280","v":2484},{"d":"2025-282","v":2460},{"d":"2025-283","v":2486},{"d":"2025-284","v":2396},{"d":"2025-286","v":2424},{"d":"2025-287","v":2456},{"d":"2025-288","v":2488},{"d":"2025-289","v":2520},{"d":"2025-290","v":2480},{"d":"2025-292","v":2450},{"d":"2025-293","v":2472},{"d":"2025-295","v":2500},{"d":"2025-296","v":2476},{"d":"2025-297","v":2452},{"d":"2025-298","v":2512},{"d":"2025-300","v":2516},{"d":"2025-301","v":2520},{"d":"2025-302","v":2500},{"d":"2025-304","v":2476},{"d":"2025-305","v":2464},{"d":"2025-306","v":2476},{"d":"2025-308","v":2472},{"d":"2025-309","v":2464},{"d":"2025-310","v":2428},{"d":"2025-311","v":2440},{"d":"2025-312","v":2418},{"d":"2025-313","v":2440},{"d":"2025-315","v":2448},{"d":"2025-316","v":2458},{"d":"2025-317","v":2448},{"d":"2025-319","v":2392},{"d":"2025-320","v":2384},{"d":"2025-321","v":2360},{"d":"2025-323","v":2340},{"d":"2025-324","v":2344},{"d":"2025-325","v":2313},{"d":"2025-326","v":2332},{"d":"2025-327","v":2372},{"d":"2025-329","v":2392},{"d":"2025-330","v":2412},{"d":"2025-331","v":2456},{"d":"2025-332","v":2480},{"d":"2025-333","v":2492},{"d":"2025-334","v":2500},{"d":"2025-335","v":2488},{"d":"2025-337","v":2476},{"d":"2025-338","v":2468},{"d":"2025-339","v":2520},{"d":"2025-340","v":2528},{"d":"2025-341","v":2520},{"d":"2025-342","v":2518},{"d":"2025-344","v":2520},{"d":"2025-345","v":2528},{"d":"2025-346","v":2588},{"d":"2025-347","v":2552},{"d":"2025-348","v":2544},{"d":"2025-350","v":2536},{"d":"2025-351","v":2520},{"d":"2025-352","v":2496},{"d":"2025-354","v":2520},{"d":"2025-355","v":2540},{"d":"2025-356","v":2552},{"d":"2025-357","v":2560},{"d":"2025-359","v":2544},{"d":"2025-360","v":2544},{"d":"2025-361","v":2532},{"d":"2025-363","v":2524},{"d":"2025-364","v":2520},{"d":"2025-365","v":2504},
{"d":"2026-002","v":2482},{"d":"2026-003","v":2500},{"d":"2026-004","v":2520},{"d":"2026-005","v":2536},{"d":"2026-007","v":2552},{"d":"2026-008","v":2584},{"d":"2026-009","v":2576},{"d":"2026-010","v":2608},{"d":"2026-011","v":2623},{"d":"2026-012","v":2631},{"d":"2026-014","v":2633},{"d":"2026-015","v":2639},{"d":"2026-016","v":2655},{"d":"2026-017","v":2679}
]},
"mark":{"type":"line","color":"#000080","strokeWidth":4.5,"clip":true,"interpolate":"linear","strokeJoin":"round"},
"encoding":{
"x":{"field":"d","type":"temporal","scale":{"domain":[{"year":2021,"month":1,"date":1},{"year":2026,"month":1,"date":17}],"nice":false},
"axis":{"title":null,"format":"%-m/%-d/%Y","labelAngle":-90,"tickCount":{"interval":"month","step":3},"grid":false,"tickSize":14,"labelPadding":20,"labelFlush":false,"labelOverlap":false,"labelBound":false}},
"y":{"field":"v","type":"quantitative","scale":{"domain":[0,3000],"nice":false,"zero":true},
"axis":{"title":null,"values":[0,500,1000,1500,2000,2500,3000],"format":",d","grid":true,"gridColor":"#3c3c3c","gridWidth":1.5,"tickSize":13,"labelPadding":27,"labelOverlap":false}}
}
}
